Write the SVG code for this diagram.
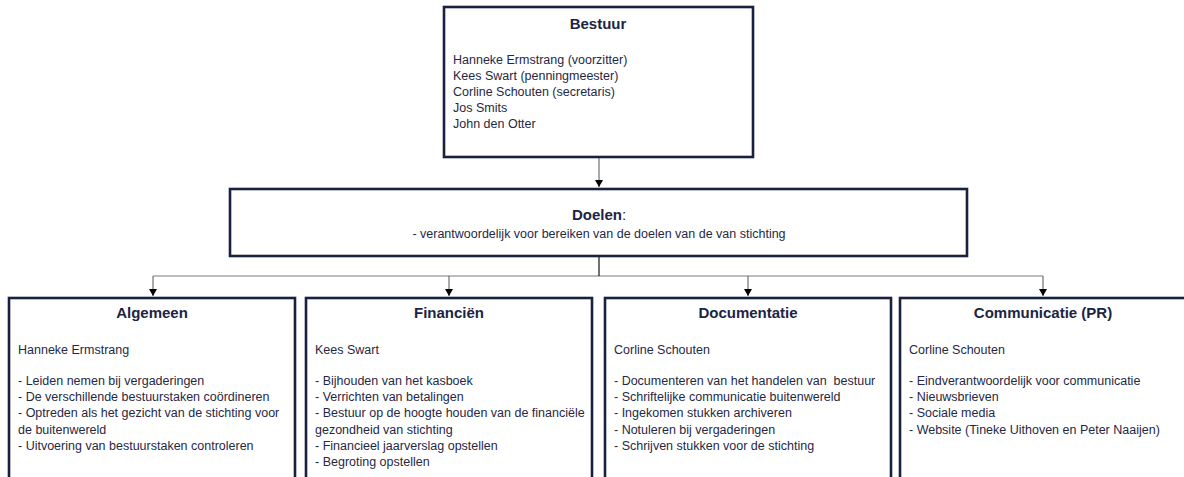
<svg xmlns="http://www.w3.org/2000/svg" width="1184" height="477" viewBox="0 0 1184 477">
<style>
.box{fill:#ffffff;stroke:#18213f;stroke-width:2.6}
.title{font-family:"Liberation Sans",Arial,sans-serif;font-size:15px;font-weight:bold;fill:#1b2444;text-anchor:middle}
.body{font-family:"Liberation Sans",Arial,sans-serif;font-size:12.5px;fill:#1f2845}
.sub{font-family:"Liberation Sans",Arial,sans-serif;font-size:12.5px;fill:#1f2845;text-anchor:middle}
.ln{stroke:#555555;stroke-width:1;fill:none}
.hl{stroke:#a6a6a6;stroke-width:1.5;fill:none}
</style>
<defs>
<marker id="arr" markerUnits="userSpaceOnUse" markerWidth="8" markerHeight="8" refX="7" refY="4" orient="auto">
<path d="M0,0 L7,4 L0,8 Z" fill="#000000"/>
</marker>
</defs>
<rect width="1184" height="477" fill="#ffffff"/>
<g id="connectors">
<line class="ln" x1="599" y1="158" x2="599" y2="187" marker-end="url(#arr)"/>
<line class="hl" x1="153" y1="276" x2="1043" y2="276"/>
<line x1="599" y1="257" x2="599" y2="276" stroke="#111111" stroke-width="1.2"/>
<line class="ln" x1="153" y1="276" x2="153" y2="296" marker-end="url(#arr)"/>
<line class="ln" x1="449" y1="276" x2="449" y2="296" marker-end="url(#arr)"/>
<line class="ln" x1="748" y1="276" x2="748" y2="296" marker-end="url(#arr)"/>
<line class="ln" x1="1043" y1="276" x2="1043" y2="296" marker-end="url(#arr)"/>
</g>
<g id="bestuur">
<rect class="box" x="444" y="7" width="309" height="150"/>
<text class="title" x="598" y="29">Bestuur</text>
<text class="body" x="453" y="63.5"><tspan x="453">Hanneke Ermstrang (voorzitter)</tspan><tspan x="453" dy="16">Kees Swart (penningmeester)</tspan><tspan x="453" dy="16">Corline Schouten (secretaris)</tspan><tspan x="453" dy="16">Jos Smits</tspan><tspan x="453" dy="16">John den Otter</tspan></text>
</g>
<g id="doelen">
<rect class="box" x="230" y="189" width="737" height="67"/>
<text class="title" x="599" y="220">Doelen<tspan font-weight="normal">:</tspan></text>
<text class="sub" x="599" y="238">- verantwoordelijk voor bereiken van de doelen van de van stichting</text>
</g>
<g id="algemeen">
<rect class="box" x="9" y="298" width="286" height="200"/>
<text class="title" x="152" y="318">Algemeen</text>
<text class="body" x="18" y="354"><tspan x="18">Hanneke Ermstrang</tspan><tspan x="18" dy="31">- Leiden nemen bij vergaderingen</tspan><tspan x="18" dy="16.2">- De verschillende bestuurstaken coördineren</tspan><tspan x="18" dy="16.2">- Optreden als het gezicht van de stichting voor</tspan><tspan x="18" dy="16.2">de buitenwereld</tspan><tspan x="18" dy="16.2">- Uitvoering van bestuurstaken controleren</tspan></text>
</g>
<g id="financien">
<rect class="box" x="306" y="298" width="286" height="200"/>
<text class="title" x="449" y="318">Financiën</text>
<text class="body" x="315" y="354"><tspan x="315">Kees Swart</tspan><tspan x="315" dy="31">- Bijhouden van het kasboek</tspan><tspan x="315" dy="16.2">- Verrichten van betalingen</tspan><tspan x="315" dy="16.2">- Bestuur op de hoogte houden van de financiële</tspan><tspan x="315" dy="16.2">gezondheid van stichting</tspan><tspan x="315" dy="16.2">- Financieel jaarverslag opstellen</tspan><tspan x="315" dy="16.2">- Begroting opstellen</tspan></text>
</g>
<g id="documentatie">
<rect class="box" x="605" y="298" width="286" height="200"/>
<text class="title" x="748" y="318">Documentatie</text>
<text class="body" x="614" y="354" xml:space="preserve"><tspan x="614">Corline Schouten</tspan><tspan x="614" dy="31">- Documenteren van het handelen van  bestuur</tspan><tspan x="614" dy="16.2">- Schriftelijke communicatie buitenwereld</tspan><tspan x="614" dy="16.2">- Ingekomen stukken archiveren</tspan><tspan x="614" dy="16.2">- Notuleren bij vergaderingen</tspan><tspan x="614" dy="16.2">- Schrijven stukken voor de stichting</tspan></text>
</g>
<g id="communicatie">
<rect class="box" x="900" y="298" width="286" height="200"/>
<text class="title" x="1043" y="318">Communicatie (PR)</text>
<text class="body" x="909" y="354"><tspan x="909">Corline Schouten</tspan><tspan x="909" dy="31">- Eindverantwoordelijk voor communicatie</tspan><tspan x="909" dy="16.2">- Nieuwsbrieven</tspan><tspan x="909" dy="16.2">- Sociale media</tspan><tspan x="909" dy="16.2">- Website (Tineke Uithoven en Peter Naaijen)</tspan></text>
</g>
</svg>
